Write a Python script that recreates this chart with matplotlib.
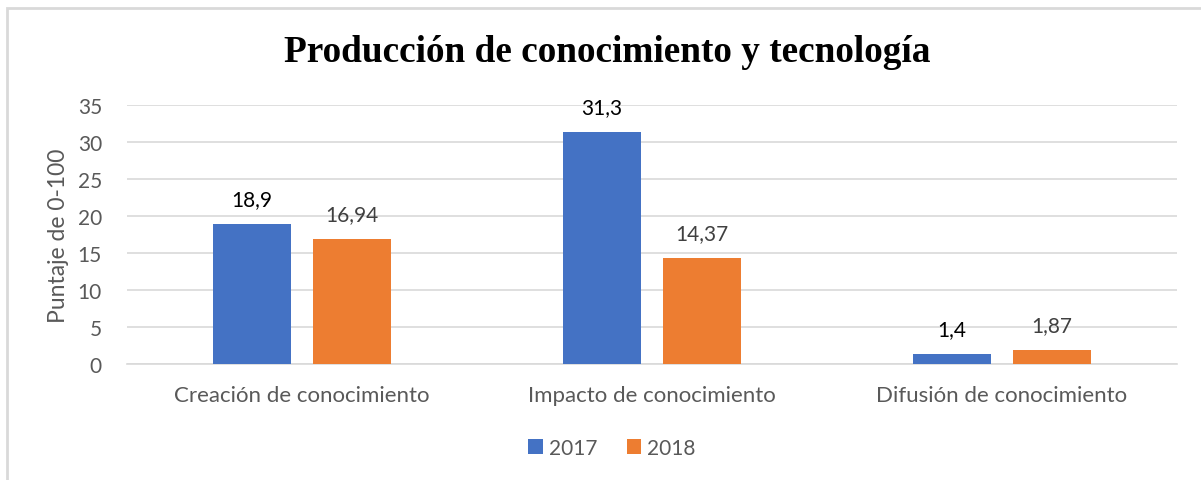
import numpy as np
from matplotlib import pyplot as plt
from matplotlib.patches import Rectangle

CATEGORIES = ["Creación de conocimiento", "Impacto de conocimiento", "Difusión de conocimiento"]
SERIES = ["2017", "2018"]
VALUES_2017 = [18.9, 31.3, 1.4]
VALUES_2018 = [16.94, 14.37, 1.87]
Y_TICKS = [0, 5, 10, 15, 20, 25, 30, 35]

TITLE = "Producción de conocimiento y tecnología"
YLABEL = "Puntaje de 0-100"

BLUE = "#4472C4"
ORANGE = "#ED7D31"
GRAY_TEXT = "#595959"
GRID = "#D9D9D9"

FONT = ["Lato", "DejaVu Sans"]
plt.rcParams["font.family"] = FONT


def fmt(v):
    return str(v).replace(".", ",")


fig = plt.figure(figsize=(12.01, 4.81), dpi=100)
fig.patches.append(Rectangle((7 / 1201, -0.1), 1.2, (481 - 9) / 481 + 0.1,
                             transform=fig.transFigure, fill=False,
                             edgecolor="#D9D9D9", linewidth=2))
ax = fig.add_axes([127 / 1201, 1 - 365 / 481, 1050 / 1201, 259 / 481])

x = np.arange(len(CATEGORIES))
width = 0.223
offset = 0.143
b1 = ax.bar(x - offset, VALUES_2017, width, color=BLUE, label=SERIES[0], zorder=3)
b2 = ax.bar(x + offset, VALUES_2018, width, color=ORANGE, label=SERIES[1], zorder=3)

for bars, vals, col in [(b1, VALUES_2017, "black"), (b2, VALUES_2018, "#404040")]:
    for rect, v in zip(bars, vals):
        ax.annotate(fmt(v), (rect.get_x() + rect.get_width() / 2, rect.get_height()),
                    xytext=(0, 18), textcoords="offset points",
                    ha="center", va="center", fontsize=15, color=col)

ax.set_xlim(-0.5, 2.5)
ax.set_ylim(0, 35)
ax.set_yticks(Y_TICKS)
ax.set_xticks(x)
ax.set_xticklabels(CATEGORIES)
ax.tick_params(axis="both", length=0, labelsize=15, labelcolor=GRAY_TEXT)
ax.tick_params(axis="x", labelsize=16)
ax.tick_params(axis="y", pad=18)
ax.tick_params(axis="x", pad=15)
ax.grid(axis="y", color=GRID, linewidth=1.2, zorder=0)
for s in ["top", "right", "left"]:
    ax.spines[s].set_visible(False)
ax.spines["bottom"].set_color(GRID)
ax.spines["bottom"].set_linewidth(1.2)

ax.set_ylabel(YLABEL, fontsize=16.5, color=GRAY_TEXT, labelpad=6)

fig.text(607 / 1201, 1 - 52 / 481, TITLE, ha="center", va="center",
         fontsize=26.8, fontweight="bold", family="Liberation Serif")

fig.legend(handles=[b1, b2], loc="center", bbox_to_anchor=(612 / 1201, 1 - 449 / 481),
           ncol=2, frameon=False, fontsize=15, labelcolor=GRAY_TEXT,
           handlelength=0.7, handleheight=0.7, handletextpad=0.3, columnspacing=1.4)

plt.savefig("out.png", dpi=100)
